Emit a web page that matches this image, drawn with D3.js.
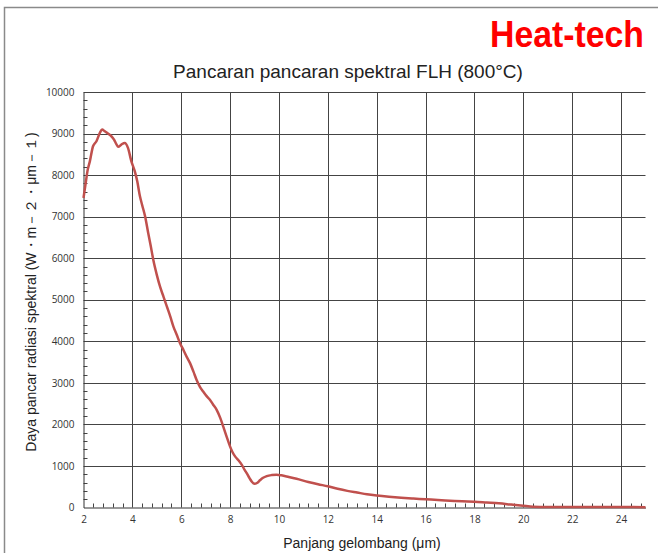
<!DOCTYPE html>
<html>
<head>
<meta charset="utf-8">
<script src="https://cdn.jsdelivr.net/npm/d3@7"></script>
<style>
  body { margin: 0; background: #fff; }
  svg { display: block; }
  .tick text { font-family: "Open Sans", "Liberation Sans", sans-serif; font-size: 10px; fill: #333; }
</style>
</head>
<body>
<svg id="chart" width="658" height="553"></svg>
<script>
// wavelength (µm) and spectral radiant power
var wavelength = [2.0, 2.05, 2.1, 2.16, 2.26, 2.39, 2.53, 2.67, 2.76, 2.87, 3.0, 3.1, 3.25, 3.35, 3.42,
  3.55, 3.69, 3.82, 3.96, 4.1, 4.2, 4.31, 4.4, 4.52, 4.65, 4.75, 4.86, 5.0, 5.13, 5.27, 5.41, 5.55,
  5.68, 5.82, 5.95, 6.1, 6.23, 6.36, 6.5, 6.63, 6.77, 6.9, 7.04, 7.18, 7.3, 7.45, 7.6, 7.72, 7.86,
  8.0, 8.1, 8.21, 8.35, 8.48, 8.6, 8.68, 8.8, 8.89, 9.0, 9.1, 9.23, 9.35, 9.5, 9.7, 9.9, 10.1, 10.4,
  10.72, 11.2, 11.6, 12.0, 12.4, 12.8, 13.2, 13.6, 14.0, 14.5, 15.0, 15.5, 16.0, 16.5, 17.0, 17.5,
  18.0, 18.5, 19.0, 19.5, 20.0, 20.4, 21, 22, 23, 24, 25];
var radiance = [7450, 7650, 7850, 8090, 8330, 8695, 8815, 9015, 9095, 9055, 9000, 8960, 8855, 8740, 8680,
  8735, 8775, 8655, 8330, 8090, 7850, 7490, 7280, 7010, 6600, 6300, 5950, 5600, 5320, 5080, 4840, 4600,
  4355, 4150, 3955, 3780, 3620, 3475, 3270, 3070, 2900, 2790, 2680, 2590, 2480, 2350, 2150, 1945, 1700,
  1465, 1330, 1225, 1130, 1025, 900, 825, 700, 620, 570, 590, 660, 715, 755, 780, 790, 775, 735,
  690, 615, 560, 510, 450, 400, 360, 320, 290, 260, 235, 215, 198, 180, 165, 150,
  140, 120, 100, 70, 40, 20, 15, 15, 12, 10, 8];
var xTicks = [2, 4, 6, 8, 10, 12, 14, 16, 18, 20, 22, 24];
var yTicks = [0, 1000, 2000, 3000, 4000, 5000, 6000, 7000, 8000, 9000, 10000];

var svg = d3.select("#chart");

// outer frame (left + top only visible)
svg.append("path")
    .attr("d", "M4.5,553 L4.5,7.5 L658,7.5")
    .attr("fill", "none")
    .attr("stroke", "#8a8a8a")
    .attr("stroke-width", 1.5);

var pLeft = 83.5, pRight = 645.5, pTop = 92, pBottom = 507.5;

var x = d3.scaleLinear().domain([2, 25]).range([pLeft, pRight]);
var y = d3.scaleLinear().domain([0, 10000]).range([pBottom, pTop]);

var g = svg.append("g");

// grid
g.append("g")
  .selectAll("line")
  .data(yTicks.slice(1))
  .enter().append("line")
    .attr("x1", pLeft).attr("x2", pRight)
    .attr("y1", function(d) { return Math.round(y(d)) + 0.5; })
    .attr("y2", function(d) { return Math.round(y(d)) + 0.5; })
    .attr("stroke", "#444").attr("stroke-width", 1);

g.append("g")
  .selectAll("line")
  .data(xTicks.slice(1))
  .enter().append("line")
    .attr("x1", function(d) { return Math.round(x(d)) + 0.5; })
    .attr("x2", function(d) { return Math.round(x(d)) + 0.5; })
    .attr("y1", pTop).attr("y2", pBottom)
    .attr("stroke", "#444").attr("stroke-width", 1);

// minor ticks pointing into the plot
var xMinor = d3.range(2, 25.01, 0.4).filter(function(d) { return Math.abs(d / 2 - Math.round(d / 2)) > 0.01; });
g.append("g")
  .selectAll("line")
  .data(xMinor)
  .enter().append("line")
    .attr("x1", function(d) { return Math.round(x(d)) + 0.5; })
    .attr("x2", function(d) { return Math.round(x(d)) + 0.5; })
    .attr("y1", pBottom).attr("y2", pBottom - 4)
    .attr("stroke", "#444");

var yMinor = d3.range(200, 10000, 200).filter(function(d) { return d % 1000 !== 0; });
g.append("g")
  .selectAll("line")
  .data(yMinor)
  .enter().append("line")
    .attr("x1", pLeft).attr("x2", pLeft + 4)
    .attr("y1", function(d) { return Math.round(y(d)) + 0.5; })
    .attr("y2", function(d) { return Math.round(y(d)) + 0.5; })
    .attr("stroke", "#444");

// axes
g.append("g")
    .attr("transform", "translate(0," + pBottom + ")")
    .call(d3.axisBottom(x).tickValues(xTicks).tickSize(0).tickPadding(8))
    .call(function(s) { s.select(".domain").attr("stroke", "#333"); });

g.append("g")
    .attr("transform", "translate(" + pLeft + ",0)")
    .call(d3.axisLeft(y).tickValues(yTicks).tickSize(0).tickPadding(9).tickFormat(d3.format("d")))
    .call(function(s) { s.select(".domain").attr("stroke", "#333"); });

// curve
var pts = wavelength.map(function(w, i) { return [w, radiance[i]]; });
g.append("path")
    .datum(pts)
    .attr("fill", "none")
    .attr("stroke", "#c0504d")
    .attr("stroke-width", 2.5)
    .attr("stroke-linejoin", "round")
    .attr("d", d3.line()
      .x(function(d) { return x(d[0]); })
      .y(function(d) { return y(d[1]); })
      .curve(d3.curveMonotoneX));

// texts
svg.append("text")
    .attr("x", 348).attr("y", 78)
    .attr("text-anchor", "middle")
    .attr("font-family", "Liberation Sans, Arial, sans-serif")
    .attr("font-size", 19)
    .attr("fill", "#222")
    .text("Pancaran pancaran spektral FLH (800°C)");

svg.append("text")
    .attr("x", 490).attr("y", 47)
    .attr("font-family", "Liberation Sans Narrow, Liberation Sans, sans-serif")
    .attr("font-weight", "bold")
    .attr("font-size", 37)
    .attr("textLength", 154)
    .attr("lengthAdjust", "spacingAndGlyphs")
    .attr("fill", "#ff0000")
    .text("Heat-tech");

svg.append("text")
    .attr("x", 362).attr("y", 548)
    .attr("text-anchor", "middle")
    .attr("font-family", "Liberation Sans, Arial, sans-serif")
    .attr("font-size", 14)
    .attr("fill", "#222")
    .text("Panjang gelombang (μm)");

svg.append("text")
    .attr("transform", "translate(36,292) rotate(-90)")
    .attr("text-anchor", "middle")
    .attr("font-family", "Liberation Sans, Arial, sans-serif")
    .attr("font-size", 14)
    .attr("fill", "#222")
    .text("Daya pancar radiasi spektral (W・m－２・μm－１)");
</script>
</body>
</html>
